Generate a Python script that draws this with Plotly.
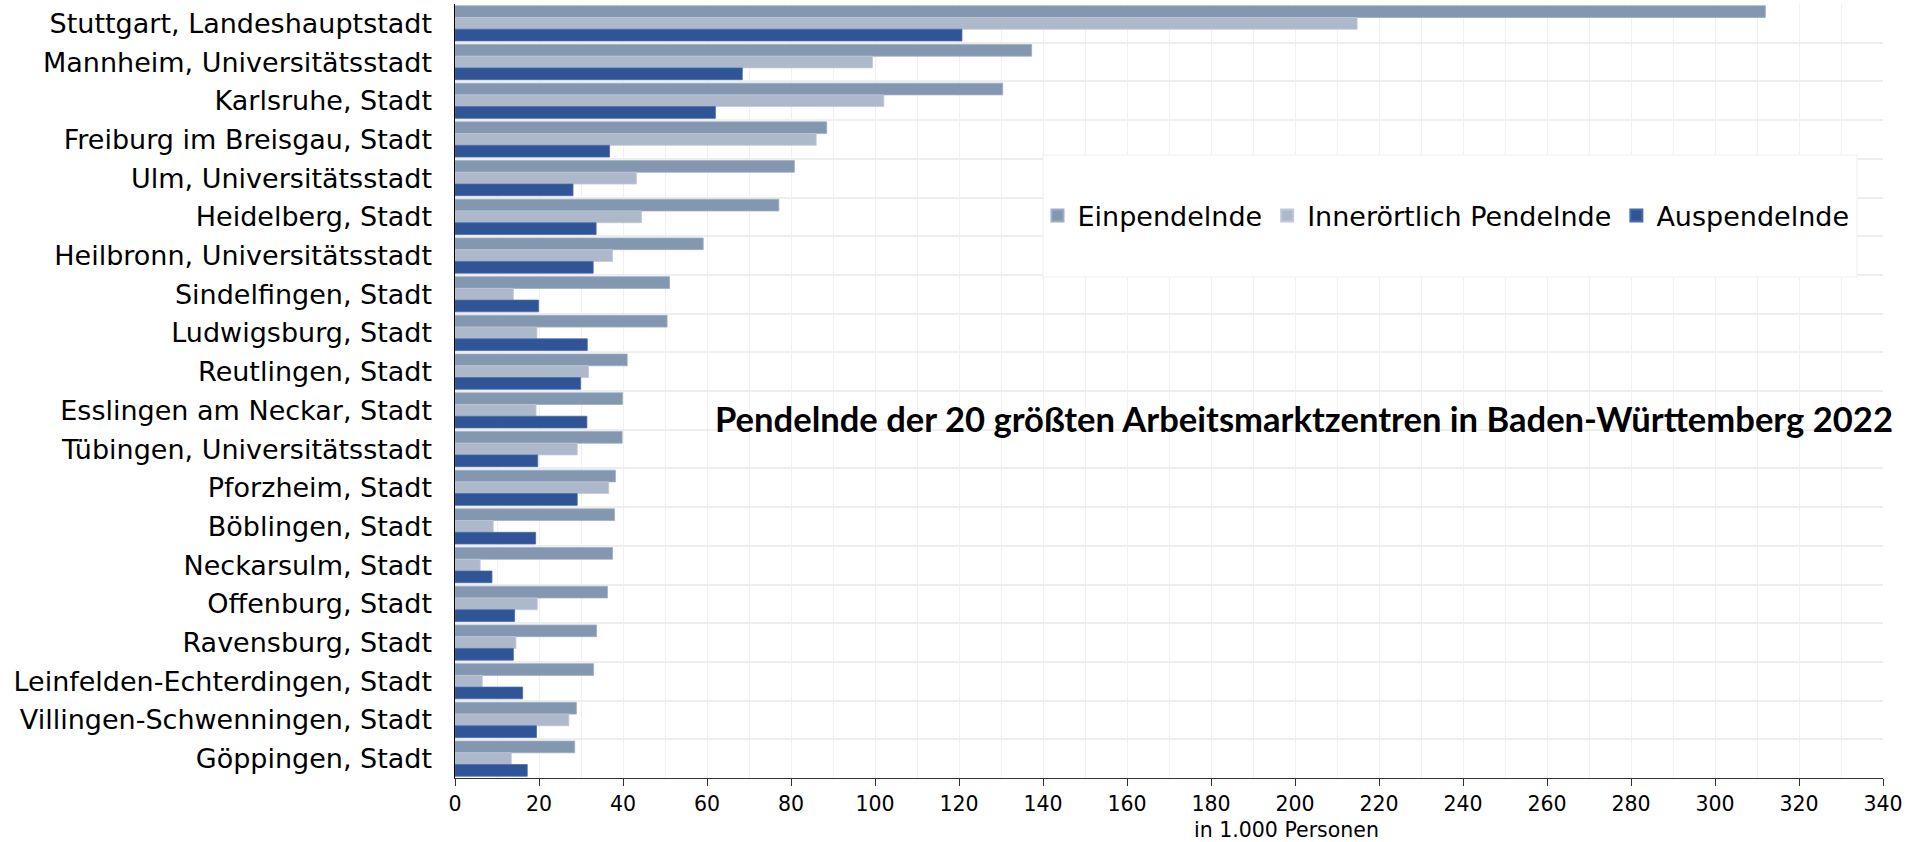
import plotly.graph_objects as go

# ---------------- data ----------------
cities = [
    "Stuttgart, Landeshauptstadt",
    "Mannheim, Universitätsstadt",
    "Karlsruhe, Stadt",
    "Freiburg im Breisgau, Stadt",
    "Ulm, Universitätsstadt",
    "Heidelberg, Stadt",
    "Heilbronn, Universitätsstadt",
    "Sindelfingen, Stadt",
    "Ludwigsburg, Stadt",
    "Reutlingen, Stadt",
    "Esslingen am Neckar, Stadt",
    "Tübingen, Universitätsstadt",
    "Pforzheim, Stadt",
    "Böblingen, Stadt",
    "Neckarsulm, Stadt",
    "Offenburg, Stadt",
    "Ravensburg, Stadt",
    "Leinfelden-Echterdingen, Stadt",
    "Villingen-Schwenningen, Stadt",
    "Göppingen, Stadt",
]
einpendelnde = [312.0, 137.3, 130.4, 88.5, 80.8, 77.1, 59.1, 51.1, 50.5, 41.0,
                39.9, 39.8, 38.2, 38.0, 37.5, 36.3, 33.7, 33.0, 28.9, 28.5]
innerortlich = [214.8, 99.4, 102.1, 86.0, 43.2, 44.4, 37.5, 13.9, 19.5, 31.8,
                19.3, 29.1, 36.6, 9.1, 6.0, 19.6, 14.5, 6.5, 27.1, 13.4]
auspendelnde = [120.7, 68.4, 62.0, 36.8, 28.1, 33.6, 32.9, 19.9, 31.5, 29.9,
                31.4, 19.7, 29.1, 19.2, 8.8, 14.2, 13.9, 16.1, 19.4, 17.2]

series_names = ["Einpendelnde", "Innerörtlich Pendelnde", "Auspendelnde"]
series_colors = ["#8497B0", "#ADB9CA", "#2F5597"]
series_edges = ["#9DAEC4", "#BFC9D7", "#4A6BA8"]
x_ticks = list(range(0, 341, 20))

title_text = "Pendelnde der 20 größten Arbeitsmarktzentren in Baden-Württemberg 2022"
x_title = "in 1.000 Personen"

# ---------------- figure ----------------
W, H = 1918, 842
ML, MR, MT, MB = 455, 35, 4, 64
PW = W - ML - MR
PH = H - MT - MB


def px_x(px):
    return (px - ML) / PW


def px_y(py):
    return (H - MB - py) / PH


fig = go.Figure()
for name, vals, col, edge in zip(series_names,
                                 [einpendelnde, innerortlich, auspendelnde],
                                 series_colors, series_edges):
    fig.add_trace(go.Bar(
        y=cities, x=vals, name=name, orientation="h",
        marker=dict(color=col, line=dict(color=edge, width=0.8)),
    ))

font_main = "DejaVu Sans, Verdana, sans-serif"

fig.update_layout(
    width=W, height=H,
    margin=dict(l=ML, r=MR, t=MT, b=MB, pad=0),
    paper_bgcolor="white", plot_bgcolor="white",
    barmode="group", bargap=0.09, bargroupgap=0,
    font=dict(family=font_main, color="black"),
    showlegend=True,
    legend=dict(
        orientation="h",
        x=px_x(1446), y=px_y(216), xanchor="center", yanchor="middle",
        font=dict(family=font_main, size=27, color="black"),
        bgcolor="rgba(0,0,0,0)", borderwidth=0,
        itemsizing="constant", itemwidth=30, tracegroupgap=0,
        traceorder="normal",
    ),
    xaxis=dict(
        range=[0, 340], tickvals=x_ticks, ticktext=[str(t) for t in x_ticks],
        ticks="outside", ticklen=7, tickwidth=1, tickcolor="#333333",
        showline=True, linecolor="#333333", linewidth=1,
        showgrid=True, gridcolor="#F0F0F0", gridwidth=1,
        minor=dict(dtick=10, tick0=0, showgrid=True, gridcolor="#F0F0F0", gridwidth=1, ticks=""),
        zeroline=False,
        tickfont=dict(family=font_main, size=20.5, color="black"),
        fixedrange=True,
    ),
    yaxis=dict(
        type="category", categoryorder="array", categoryarray=cities,
        autorange="reversed",
        tickson="boundaries", ticks="",
        showgrid=True, gridcolor="#EEEEEE", gridwidth=2,
        showline=True, linecolor="black", linewidth=1.5,
        zeroline=False,
        ticklabelstandoff=16,
        tickfont=dict(family=font_main, size=27, color="black"),
        fixedrange=True,
    ),
    shapes=[dict(
        type="rect", xref="paper", yref="paper", layer="above",
        x0=px_x(1043), x1=px_x(1857), y0=px_y(277), y1=px_y(155),
        fillcolor="white", line=dict(color="#EEEEEE", width=1),
    )],
    annotations=[
        dict(text=title_text, xref="paper", yref="paper",
             x=px_x(1895), y=px_y(418), xanchor="right", yanchor="middle",
             showarrow=False,
             font=dict(family="Lato, 'Open Sans', sans-serif", size=34.6, color="black", weight="bold")),
        dict(text=x_title, xref="paper", yref="paper",
             x=px_x(1286.5), y=px_y(830), xanchor="center", yanchor="middle",
             showarrow=False,
             font=dict(family=font_main, size=20.5, color="black")),
    ],
)

fig.write_html(
    "out.html",
    config={"displayModeBar": False, "staticPlot": True},
    post_script="document.body.style.margin='0';document.body.style.overflow='hidden';",
)
